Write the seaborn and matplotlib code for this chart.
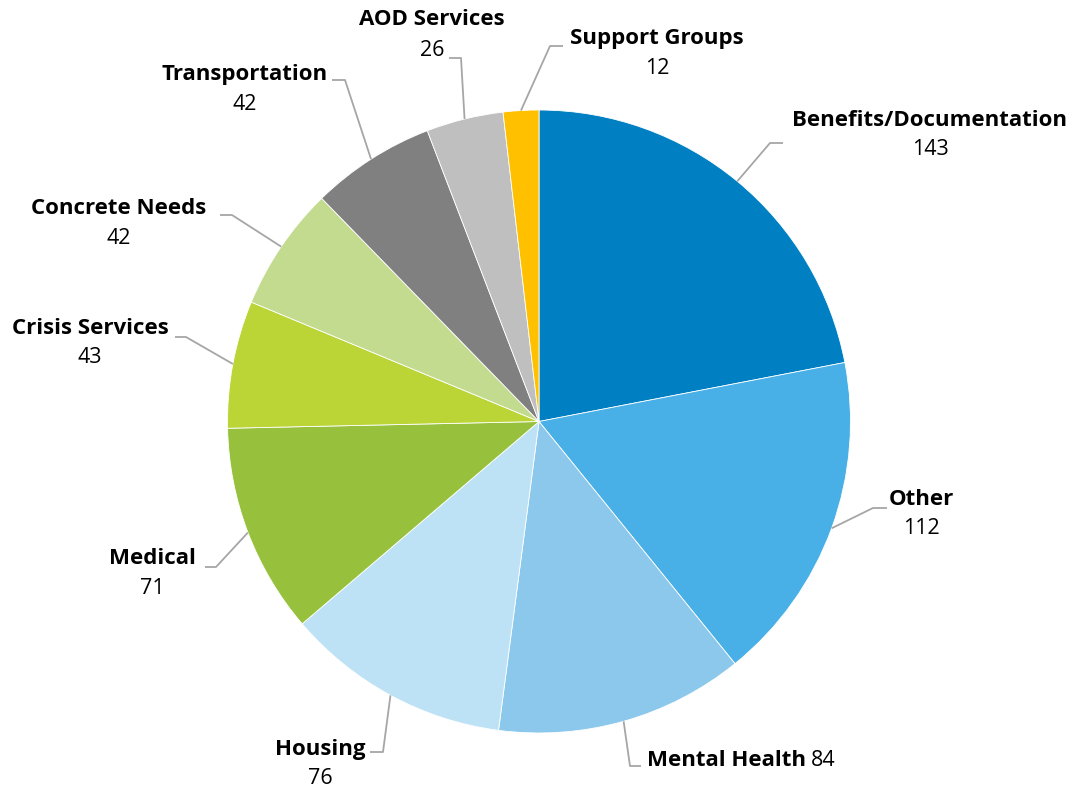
import numpy as np
import matplotlib
matplotlib.use("Agg")
import matplotlib.pyplot as plt
import seaborn as sns

# Referral categories, clockwise from 12 o'clock
categories = ["Benefits/Documentation", "Other", "Mental Health", "Housing",
              "Medical", "Crisis Services", "Concrete Needs", "Transportation",
              "AOD Services", "Support Groups"]
counts = [143, 112, 84, 76, 71, 43, 42, 42, 26, 12]
slice_colors = ["#0080C3", "#48B0E6", "#8BC8EC", "#BEE2F5", "#97C13D",
                "#BAD535", "#C2DB8E", "#808080", "#BFBFBF", "#FFC000"]

W, H = 1076, 789
sns.set_theme(style="white")
plt.rcParams["font.family"] = ["Open Sans", "DejaVu Sans"]

fig = plt.figure(figsize=(W / 100, H / 100), dpi=100)
ax = fig.add_axes([0, 0, 1, 1])

cx, cy, R = 539.0, 421.5, 311.5          # pie centre / radius in pixel space (y downward)
def P(x, y):
    return x, H - y

palette = sns.color_palette(slice_colors)
wedges, _ = ax.pie(counts, colors=palette, startangle=90, counterclock=False,
                   radius=R, center=P(cx, cy),
                   wedgeprops=dict(linewidth=0.6, edgecolor="white"))
ax.set_xlim(0, W)
ax.set_ylim(0, H)
ax.set_aspect("equal")
ax.axis("off")

# label layout: (elbow, line end, label centre x, name y, value y)
layout = {
    "Benefits/Documentation": ((770, 143), (783, 143), 930, 120, 149),
    "Other":                  ((873, 508), (887, 508), 921, 499, 529),
    "Mental Health":          ((630, 766), (641, 766), None, 760, None),
    "Housing":                ((383, 752), (370, 752), 320, 749, 778),
    "Medical":                ((216, 567), (205, 567), 152, 558, 588),
    "Crisis Services":        ((186, 337), (175, 337), 90, 328, 357),
    "Concrete Needs":         ((232, 215), (220, 215), 119, 208, 238),
    "Transportation":         ((345, 80), (332, 80), 245, 74, 104),
    "AOD Services":           ((461, 58), (449, 58), 432, 19, 50),
    "Support Groups":         ((550, 46), (563, 46), 657, 38, 68),
}

line_color = "#A6A6A6"
name_fs, val_fs = 16, 15.5
for wedge, cat, val in zip(wedges, categories, counts):
    mid = np.deg2rad((wedge.theta1 + wedge.theta2) / 2)
    sx, sy = cx + R * np.cos(mid), cy - R * np.sin(mid)
    elbow, end, lx, ny, vy = layout[cat]
    xs = [sx, elbow[0], end[0]]
    ys = [H - sy, H - elbow[1], H - end[1]]
    ax.plot(xs, ys, color=line_color, lw=1.3, solid_capstyle="butt")
    if cat == "Mental Health":
        t = ax.text(*P(647, ny), cat, ha="left", va="center",
                    fontsize=name_fs, fontweight="bold", color="black")
        fig.canvas.draw()
        bb = t.get_window_extent().transformed(ax.transData.inverted())
        ax.text(bb.x1 + 5, H - ny, str(val), ha="left", va="center",
                fontsize=val_fs, color="black")
    else:
        ax.text(*P(lx, ny), cat, ha="center", va="center",
                fontsize=name_fs, fontweight="bold", color="black")
        ax.text(*P(lx, vy), str(val), ha="center", va="center",
                fontsize=val_fs, color="black")

fig.savefig("out.png", dpi=100, facecolor="white")
